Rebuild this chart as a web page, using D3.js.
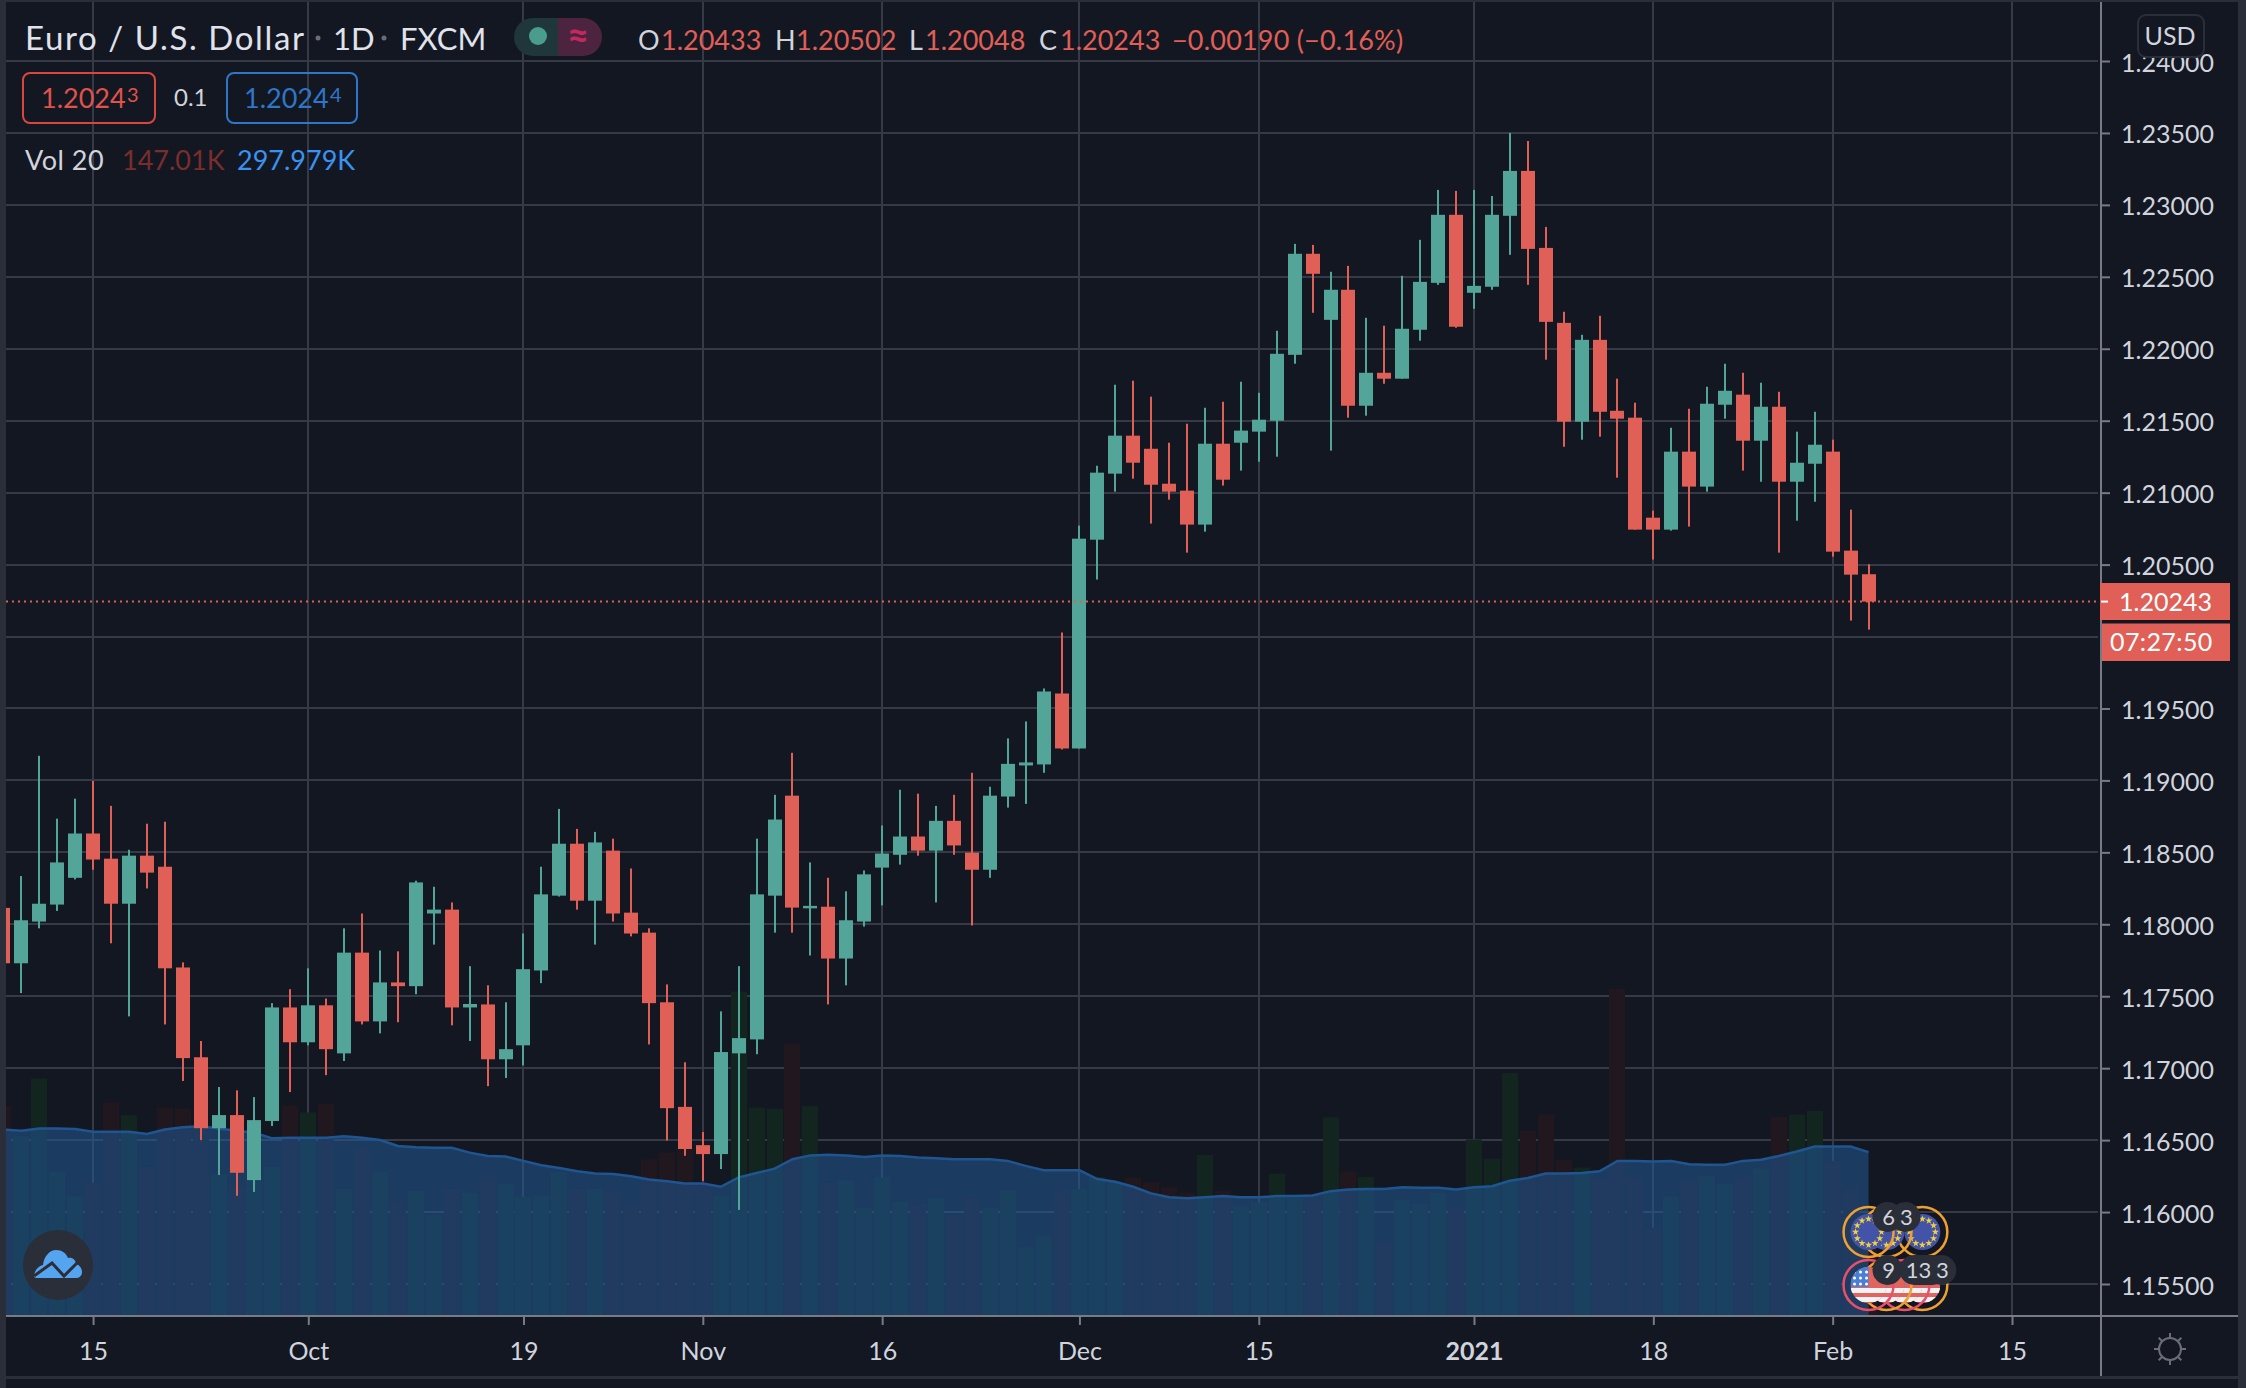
<!DOCTYPE html>
<html>
<head>
<meta charset="utf-8">
<script src="https://cdn.jsdelivr.net/npm/d3@7/dist/d3.min.js"></script>
<style>
  html, body { margin: 0; padding: 0; background: #131722; }
  svg { display: block; }
  text { font-family: Lato, "Open Sans", sans-serif; }
</style>
</head>
<body>
<svg id="chart" width="2246" height="1388"></svg>
<script>
// Daily EUR/USD candles, one entry per bar
const opens = [
  1.18114, 1.17729, 1.18019, 1.18137, 1.18323, 1.18631, 1.18456, 1.18143, 1.18477, 1.18400,
  1.17700, 1.17076, 1.16583, 1.16674, 1.16222, 1.16633, 1.17422, 1.17180, 1.17437, 1.17103,
  1.17803, 1.17325, 1.17596, 1.17570, 1.18075, 1.18102, 1.17422, 1.17443, 1.17062, 1.17159,
  1.17679, 1.18199, 1.18560, 1.18164, 1.18512, 1.18081, 1.17942, 1.17458, 1.16731, 1.16465,
  1.16403, 1.17103, 1.17200, 1.18199, 1.18894, 1.18111, 1.18122, 1.17762, 1.18019, 1.18394,
  1.18483, 1.18610, 1.18512, 1.18719, 1.18498, 1.18379, 1.18888, 1.19104, 1.19111, 1.19604,
  1.19222, 1.20673, 1.21132, 1.21396, 1.21305, 1.21062, 1.21014, 1.20778, 1.21340, 1.21347,
  1.21424, 1.21500, 1.21958, 1.22660, 1.22201, 1.22410, 1.21604, 1.21833, 1.21792, 1.22132,
  1.22458, 1.22931, 1.22389, 1.22431, 1.22924, 1.23236, 1.22701, 1.22180, 1.21493, 1.22062,
  1.21569, 1.21521, 1.20826, 1.20743, 1.21285, 1.21042, 1.21611, 1.21681, 1.21361, 1.21597,
  1.21076, 1.21201, 1.21285, 1.20597, 1.20433
];
const highs = [
  1.18114, 1.18335, 1.19171, 1.18734, 1.18873, 1.18997, 1.18823, 1.18518, 1.18699, 1.18713,
  1.17735, 1.17189, 1.16869, 1.16846, 1.16799, 1.17452, 1.17549, 1.17694, 1.17484, 1.17972,
  1.18075, 1.17818, 1.17812, 1.18303, 1.18261, 1.18152, 1.17709, 1.17576, 1.17458, 1.17936,
  1.18400, 1.18802, 1.18663, 1.18642, 1.18595, 1.18388, 1.17972, 1.17582, 1.17041, 1.16556,
  1.17395, 1.17709, 1.18595, 1.18900, 1.19192, 1.18430, 1.18323, 1.18229, 1.18374, 1.18687,
  1.18935, 1.18908, 1.18823, 1.18900, 1.19053, 1.18956, 1.19292, 1.19410, 1.19639, 1.20028,
  1.20771, 1.21187, 1.21750, 1.21778, 1.21667, 1.21347, 1.21479, 1.21590, 1.21632, 1.21771,
  1.21694, 1.22125, 1.22729, 1.22722, 1.22535, 1.22576, 1.22215, 1.22160, 1.22507, 1.22757,
  1.23104, 1.23097, 1.23104, 1.23062, 1.23500, 1.23444, 1.22847, 1.22257, 1.22097, 1.22229,
  1.21792, 1.21625, 1.20875, 1.21451, 1.21583, 1.21736, 1.21896, 1.21833, 1.21764, 1.21701,
  1.21424, 1.21562, 1.21368, 1.20882, 1.20502
];
const lows = [
  1.17729, 1.17522, 1.17972, 1.18093, 1.18312, 1.18379, 1.17868, 1.17360, 1.18249, 1.17304,
  1.16911, 1.16500, 1.16258, 1.16113, 1.16140, 1.16598, 1.16834, 1.17159, 1.16952, 1.17050,
  1.17304, 1.17242, 1.17319, 1.17514, 1.17859, 1.17298, 1.17189, 1.16875, 1.16932, 1.17020,
  1.17591, 1.18193, 1.18102, 1.17859, 1.18019, 1.17916, 1.17165, 1.16497, 1.16391, 1.16216,
  1.16299, 1.16015, 1.17097, 1.17942, 1.17942, 1.17783, 1.17443, 1.17576, 1.17984, 1.18131,
  1.18415, 1.18477, 1.18152, 1.18483, 1.17992, 1.18323, 1.18811, 1.18837, 1.19053, 1.19215,
  1.19222, 1.20396, 1.21007, 1.21097, 1.20785, 1.20951, 1.20583, 1.20729, 1.21049, 1.21153,
  1.21215, 1.21250, 1.21896, 1.22250, 1.21292, 1.21521, 1.21535, 1.21757, 1.21792, 1.22056,
  1.22444, 1.22146, 1.22278, 1.22410, 1.22653, 1.22444, 1.21924, 1.21319, 1.21368, 1.21389,
  1.21104, 1.20743, 1.20535, 1.20736, 1.20764, 1.21007, 1.21514, 1.21153, 1.21076, 1.20583,
  1.20805, 1.20937, 1.20555, 1.20111, 1.20048
];
const closes = [
  1.17729, 1.18028, 1.18143, 1.18430, 1.18631, 1.18450, 1.18143, 1.18477, 1.18359, 1.17694,
  1.17070, 1.16583, 1.16674, 1.16273, 1.16639, 1.17422, 1.17180, 1.17437, 1.17132, 1.17803,
  1.17325, 1.17596, 1.17570, 1.18291, 1.18102, 1.17422, 1.17446, 1.17062, 1.17132, 1.17688,
  1.18208, 1.18560, 1.18164, 1.18569, 1.18075, 1.17936, 1.17452, 1.16722, 1.16438, 1.16403,
  1.17112, 1.17209, 1.18208, 1.18728, 1.18116, 1.18128, 1.17762, 1.18028, 1.18347, 1.18492,
  1.18610, 1.18512, 1.18719, 1.18548, 1.18379, 1.18894, 1.19115, 1.19125, 1.19618, 1.19222,
  1.20680, 1.21139, 1.21396, 1.21208, 1.21055, 1.21007, 1.20778, 1.21340, 1.21090, 1.21431,
  1.21507, 1.21965, 1.22660, 1.22521, 1.22410, 1.21604, 1.21833, 1.21792, 1.22139, 1.22465,
  1.22931, 1.22153, 1.22437, 1.22931, 1.23236, 1.22694, 1.22187, 1.21493, 1.22062, 1.21562,
  1.21514, 1.20743, 1.20743, 1.21285, 1.21042, 1.21618, 1.21708, 1.21361, 1.21597, 1.21076,
  1.21208, 1.21333, 1.20590, 1.20430, 1.20243
];

// Volume per bar and its 20 period average, in thousands
const volumes = [
  381, 327, 432, 262, 217, 242, 388, 365, 271, 379,
  377, 343, 258, 238, 246, 271, 382, 370, 386, 231,
  308, 262, 207, 227, 184, 231, 223, 254, 241, 217,
  219, 262, 231, 231, 227, 201, 285, 297, 302, 238,
  219, 590, 379, 377, 495, 382, 242, 246, 196, 252,
  207, 204, 215, 184, 215, 197, 229, 125, 145, 227,
  231, 253, 243, 252, 243, 234, 225, 293, 228, 201,
  207, 259, 215, 222, 361, 263, 253, 134, 211, 204,
  224, 198, 321, 286, 442, 337, 367, 284, 270, 252,
  595, 252, 161, 217, 243, 255, 240, 252, 268, 362,
  366, 373, 282, 234, 147
];
const volumeMa = [
  339, 337, 341, 341, 340, 335, 335, 335, 331, 339,
  343, 345, 341, 337, 333, 323, 324, 324, 324, 327,
  324, 320, 309, 307, 306, 306, 297, 291, 290, 282,
  274, 269, 263, 259, 258, 254, 248, 245, 241, 241,
  235, 252, 260, 268, 285, 292, 293, 292, 289, 292,
  291, 288, 287, 285, 285, 285, 282, 273, 265, 265,
  265, 249, 244, 235, 223, 216, 214, 216, 218, 216,
  216, 218, 218, 219, 227, 230, 231, 231, 234, 233,
  233, 230, 234, 236, 246, 251, 259, 259, 260, 263,
  282, 282, 281, 282, 276, 275, 275, 282, 284, 291,
  299, 308, 308, 308, 298
];

const priceTicks = [1.155, 1.16, 1.165, 1.17, 1.175, 1.18, 1.185, 1.19, 1.195, 1.2,
  1.205, 1.21, 1.215, 1.22, 1.225, 1.23, 1.235, 1.24];
const hiddenPriceLabels = [1.2]; // sits under the countdown tag
const timeTicks = [5, 17, 29, 39, 49, 60, 70, 82, 92, 102, 112];
const timeLabels = ["15", "Oct", "19", "Nov", "16", "Dec", "15", "2021", "18", "Feb", "15"];

const lastPrice = 1.20243;

// Economic event markers: bar position, flag, count bubble
const euEvents = [{ bar: 104, count: "6" }, { bar: 105, count: "3" }, { bar: 107, count: null }];
const usEvents = [
  { bar: 104, count: "9", ring: "#e8506a" },
  { bar: 105, count: null, ring: "#f0a030" },
  { bar: 106, count: "13", ring: "#e8506a" },
  { bar: 107, count: "3", ring: "#f0a030" },
];

const THEME = {
  bg: "#131722",
  frame: "#2a2e39",
  grid: "#363a47",
  axis: "#787b86",
  text: "#d1d4dc",
  up: "#53a59a",
  down: "#e05f57",
};

const W = 2246, H = 1388;
const plot = { left: 6, top: 2, right: 2101, bottom: 1316 };

const x = d3.scaleLinear().domain([0, 112]).range([3.4, 2012]);
const y = d3.scaleLinear().domain([1.24, 1.155]).range([61, 1284]);
const yVol = d3.scaleLinear().domain([0, 700]).range([plot.bottom, plot.bottom - 385]);

const svg = d3.select("#chart");
svg.append("rect").attr("width", W).attr("height", H).attr("fill", THEME.bg);

const defs = svg.append("defs");
defs.append("clipPath").attr("id", "plot-clip").append("rect")
  .attr("x", plot.left).attr("y", plot.top)
  .attr("width", plot.right - plot.left).attr("height", plot.bottom - plot.top);

const bars = d3.range(opens.length).map(i => ({
  i, o: opens[i], h: highs[i], l: lows[i], c: closes[i], v: volumes[i], ma: volumeMa[i],
  up: closes[i] >= opens[i],
}));

const plotG = svg.append("g").attr("clip-path", "url(#plot-clip)");

// Grid
plotG.append("g").selectAll("line").data(priceTicks).join("line")
  .attr("x1", plot.left).attr("x2", 2098)
  .attr("y1", d => Math.round(y(d))).attr("y2", d => Math.round(y(d)))
  .attr("stroke", THEME.grid).attr("stroke-width", 2);
plotG.append("g").selectAll("line").data(timeTicks).join("line")
  .attr("x1", d => Math.round(x(d))).attr("x2", d => Math.round(x(d)))
  .attr("y1", plot.top).attr("y2", plot.bottom)
  .attr("stroke", THEME.grid).attr("stroke-width", 2);

// Volume
plotG.append("g").selectAll("rect").data(bars).join("rect")
  .attr("x", d => Math.round(x(d.i)) - 8).attr("width", 16)
  .attr("y", d => yVol(d.v)).attr("height", d => plot.bottom - yVol(d.v))
  .attr("fill", d => d.up ? "#13251f" : "#21171f");

// Volume moving average
const maArea = d3.area().x(d => x(d.i)).y0(plot.bottom).y1(d => yVol(d.ma));
const maLine = d3.line().x(d => x(d.i)).y(d => yVol(d.ma));
plotG.append("path").datum(bars).attr("d", maArea).attr("fill", "#225a96").attr("fill-opacity", 0.55);
plotG.append("path").datum(bars).attr("d", maLine)
  .attr("fill", "none").attr("stroke", "#1f5590").attr("stroke-width", 2.5);

// Candles
const candle = plotG.append("g").selectAll("g").data(bars).join("g")
  .attr("fill", d => d.up ? THEME.up : THEME.down);
candle.append("rect")
  .attr("x", d => Math.round(x(d.i)) - 1).attr("width", 2)
  .attr("y", d => y(d.h)).attr("height", d => y(d.l) - y(d.h));
candle.append("rect")
  .attr("x", d => Math.round(x(d.i)) - 7).attr("width", 14)
  .attr("y", d => y(Math.max(d.o, d.c)))
  .attr("height", d => Math.max(2, Math.abs(y(d.o) - y(d.c))));

// Last price line
plotG.append("line")
  .attr("x1", plot.left).attr("x2", plot.right)
  .attr("y1", y(lastPrice)).attr("y2", y(lastPrice))
  .attr("stroke", THEME.down).attr("stroke-width", 2).attr("stroke-dasharray", "2 4");

// Event markers
const events = svg.append("g");
function ring(g, d, cy, color) {
  g.append("circle").attr("cx", x(d.bar)).attr("cy", cy).attr("r", 25)
    .attr("fill", "none").attr("stroke", color).attr("stroke-width", 2.5);
}
defs.selectAll("clipPath.us").data(usEvents).join("clipPath")
  .attr("class", "us").attr("id", d => `us-${d.bar}`)
  .append("circle").attr("cx", d => x(d.bar)).attr("cy", 1285).attr("r", 18);

[...euEvents].reverse().forEach(d => {
  const g = events.append("g");
  g.append("circle").attr("cx", x(d.bar)).attr("cy", 1232).attr("r", 18).attr("fill", "#4353a8");
  d3.range(12).forEach(k => {
    const a = k / 12 * 2 * Math.PI;
    g.append("path")
      .attr("d", d3.symbol(d3.symbolStar, 16))
      .attr("transform", `translate(${x(d.bar) + 13 * Math.cos(a)},${1232 + 13 * Math.sin(a)})`)
      .attr("fill", "#f0d040");
  });
  ring(g, d, 1232, "#f0a030");
});
[...usEvents].reverse().forEach(d => {
  const g = events.append("g");
  const f = g.append("g").attr("clip-path", `url(#us-${d.bar})`);
  const cx = x(d.bar);
  f.append("rect").attr("x", cx - 18).attr("y", 1267).attr("width", 36).attr("height", 36).attr("fill", "#e0655f");
  [1288, 1297].forEach(sy => f.append("rect").attr("x", cx - 18).attr("y", sy).attr("width", 36).attr("height", 5).attr("fill", "#f2f2f5"));
  f.append("rect").attr("x", cx - 18).attr("y", 1267).attr("width", 18).attr("height", 20).attr("fill", "#4a7fd8");
  d3.range(3).forEach(r => d3.range(3).forEach(c => {
    f.append("circle").attr("cx", cx - 14 + c * 6).attr("cy", 1272 + r * 6).attr("r", 1.5).attr("fill", "#fff");
  }));
  ring(g, d, 1285, d.ring);
});
// bubbles first, counts on top, so a neighbouring bubble can't cover a number
function bubbles(list, cy) {
  const shown = list.filter(d => d.count);
  events.append("g").selectAll("rect").data(shown).join("rect")
    .attr("x", d => x(d.bar) + 19 - (d.count.length > 1 ? 24 : 15)).attr("y", cy - 15)
    .attr("width", d => d.count.length > 1 ? 48 : 30).attr("height", 30).attr("rx", 15)
    .attr("fill", THEME.frame);
  events.append("g").selectAll("text").data(shown).join("text")
    .attr("x", d => x(d.bar) + (d.count.length > 1 ? 14 : 20)).attr("y", cy + 8).attr("text-anchor", "middle")
    .attr("font-size", 22).attr("fill", THEME.text).text(d => d.count);
}
bubbles(euEvents, 1217);
bubbles(usEvents, 1270);

// Logo
const logo = svg.append("g");
logo.append("circle").attr("cx", 58).attr("cy", 1265).attr("r", 35).attr("fill", THEME.frame);
logo.append("path")
  .attr("d", "M34,1277 C34,1270 39,1266 43,1265 C44,1256 50,1250 56,1250 C62,1250 66,1253 68,1258 C72,1257 76,1260 76,1264 C80,1265 82,1269 82,1272 C82,1276 79,1278 76,1278 L36,1278 Z")
  .attr("fill", "#55a4f0");
logo.append("path")
  .attr("d", "M34,1276 L52,1263 L64,1276 L78,1262")
  .attr("fill", "none").attr("stroke", THEME.frame).attr("stroke-width", 3);

// Frame
[[0, 0, W, 2], [0, 0, 6, H], [2238, 0, 8, H], [6, 1376, 2232, 3]].forEach(r => {
  svg.append("rect").attr("x", r[0]).attr("y", r[1]).attr("width", r[2]).attr("height", r[3])
    .attr("fill", THEME.frame);
});

// Axes
const yAxis = d3.axisRight(y).tickValues(priceTicks)
  .tickFormat(d => hiddenPriceLabels.includes(d) ? "" : d3.format(".5f")(d))
  .tickSize(9).tickPadding(11);
const yAxisG = svg.append("g").attr("transform", `translate(${plot.right},0)`).call(yAxis);
yAxisG.select(".domain").remove();
yAxisG.selectAll("line").attr("stroke", THEME.axis).attr("stroke-width", 2);
yAxisG.selectAll("text").attr("fill", THEME.text).attr("font-size", 25).attr("font-family", "Roboto")
  .attr("transform", "translate(0,2)");

const xAxis = d3.axisBottom(x).tickValues(timeTicks)
  .tickFormat((d, i) => timeLabels[i]).tickSize(9).tickPadding(17);
const xAxisG = svg.append("g").attr("transform", `translate(0,${plot.bottom})`).call(xAxis);
xAxisG.select(".domain").remove();
xAxisG.selectAll("line").attr("stroke", THEME.axis).attr("stroke-width", 2);
xAxisG.selectAll("text").attr("fill", THEME.text).attr("font-size", 25)
  .attr("font-weight", d => d === 82 ? 700 : 400);

svg.append("line").attr("x1", plot.left).attr("x2", 2238)
  .attr("y1", plot.bottom).attr("y2", plot.bottom)
  .attr("stroke", THEME.axis).attr("stroke-width", 2);
svg.append("line").attr("x1", plot.right).attr("x2", plot.right)
  .attr("y1", plot.top).attr("y2", 1376)
  .attr("stroke", THEME.axis).attr("stroke-width", 2);

// Last price tags
const tags = svg.append("g");
tags.append("rect").attr("x", 2100).attr("y", 583).attr("width", 130).attr("height", 37).attr("fill", THEME.down);
tags.append("rect").attr("x", 2102).attr("y", 623.5).attr("width", 128).attr("height", 37.5).attr("fill", THEME.down);
tags.append("line").attr("x1", 2101).attr("x2", 2108).attr("y1", y(lastPrice)).attr("y2", y(lastPrice))
  .attr("stroke", "#fff").attr("stroke-width", 2);
tags.append("text").attr("x", 2119).attr("y", 611).attr("font-size", 25).attr("font-family", "Roboto")
  .attr("fill", "#fff").text(d3.format(".5f")(lastPrice));
tags.append("text").attr("x", 2110).attr("y", 651).attr("font-size", 25).attr("font-family", "Roboto")
  .attr("letter-spacing", 0.4).attr("fill", "#fff").text("07:27:50");

// Currency button
svg.append("rect").attr("x", 2138).attr("y", 15).attr("width", 66).attr("height", 42).attr("rx", 8)
  .attr("fill", THEME.bg).attr("stroke", THEME.frame).attr("stroke-width", 2);
svg.append("text").attr("x", 2170).attr("y", 45).attr("text-anchor", "middle")
  .attr("font-size", 25).attr("fill", THEME.text).text("USD");

// Settings icon
const sun = svg.append("g").attr("transform", "translate(2170,1349)")
  .attr("stroke", "#6a6d78").attr("stroke-width", 2).attr("fill", "none");
sun.append("circle").attr("r", 11);
d3.range(8).forEach(k => {
  const a = k / 8 * 2 * Math.PI;
  sun.append("line").attr("x1", 11 * Math.cos(a)).attr("y1", 11 * Math.sin(a))
    .attr("x2", 16 * Math.cos(a)).attr("y2", 16 * Math.sin(a));
});

// Legend
const legend = svg.append("g");
function label(px, py, size, color, str, anchor) {
  return legend.append("text").attr("x", px).attr("y", py).attr("font-size", size)
    .attr("fill", color).attr("text-anchor", anchor || "start").text(str);
}
label(25, 50, 33, "#e0e3eb", "Euro / U.S. Dollar").attr("letter-spacing", 1.6);
legend.append("circle").attr("cx", 318).attr("cy", 38).attr("r", 2.5).attr("fill", "#6a6d78");
label(333, 50, 31, "#e0e3eb", "1D");
legend.append("circle").attr("cx", 384).attr("cy", 38).attr("r", 2.5).attr("fill", "#6a6d78");
label(400, 50, 31, "#e0e3eb", "FXCM");

legend.append("path").attr("d", "M558,18 H533 a19,19 0 0 0 0,38 H558 Z").attr("fill", "#1f363a");
legend.append("path").attr("d", "M558,18 H583 a19,19 0 0 1 0,38 H558 Z").attr("fill", "#4d2440");
legend.append("circle").attr("cx", 538).attr("cy", 36).attr("r", 9).attr("fill", "#4a9d8e");
label(578, 49, 38, "#c4285f", "≈", "middle").attr("font-weight", 700);

label(638, 50, 27, "#d1d4dc", "O");
label(661, 50, 27, THEME.down, "1.20433");
label(775, 50, 27, "#d1d4dc", "H");
label(796, 50, 27, THEME.down, "1.20502");
label(909, 50, 27, "#d1d4dc", "L");
label(925, 50, 27, THEME.down, "1.20048");
label(1039, 50, 27, "#d1d4dc", "C");
label(1060, 50, 27, THEME.down, "1.20243");
label(1172, 50, 27, THEME.down, "−0.00190 (−0.16%)").attr("letter-spacing", 0.2);

legend.append("rect").attr("x", 23).attr("y", 73).attr("width", 132).attr("height", 50).attr("rx", 7)
  .attr("fill", "none").attr("stroke", "#d9463e").attr("stroke-width", 2);
label(41, 108, 27, "#e0524a", "1.2024");
label(127, 102, 20, "#e0524a", "3");
label(174, 106, 24, "#d1d4dc", "0.1");
legend.append("rect").attr("x", 227).attr("y", 73).attr("width", 130).attr("height", 50).attr("rx", 7)
  .attr("fill", "none").attr("stroke", "#2f76c8").attr("stroke-width", 2);
label(244, 108, 27, "#2f76c8", "1.2024");
label(330, 102, 20, "#2f76c8", "4");

label(25, 170, 27, "#d1d4dc", "Vol 20").attr("letter-spacing", 0.5);
label(122, 170, 27, "#7a2e2c", "147.01K");
label(237, 170, 27, "#3a93f0", "297.979K");
</script>
</body>
</html>
